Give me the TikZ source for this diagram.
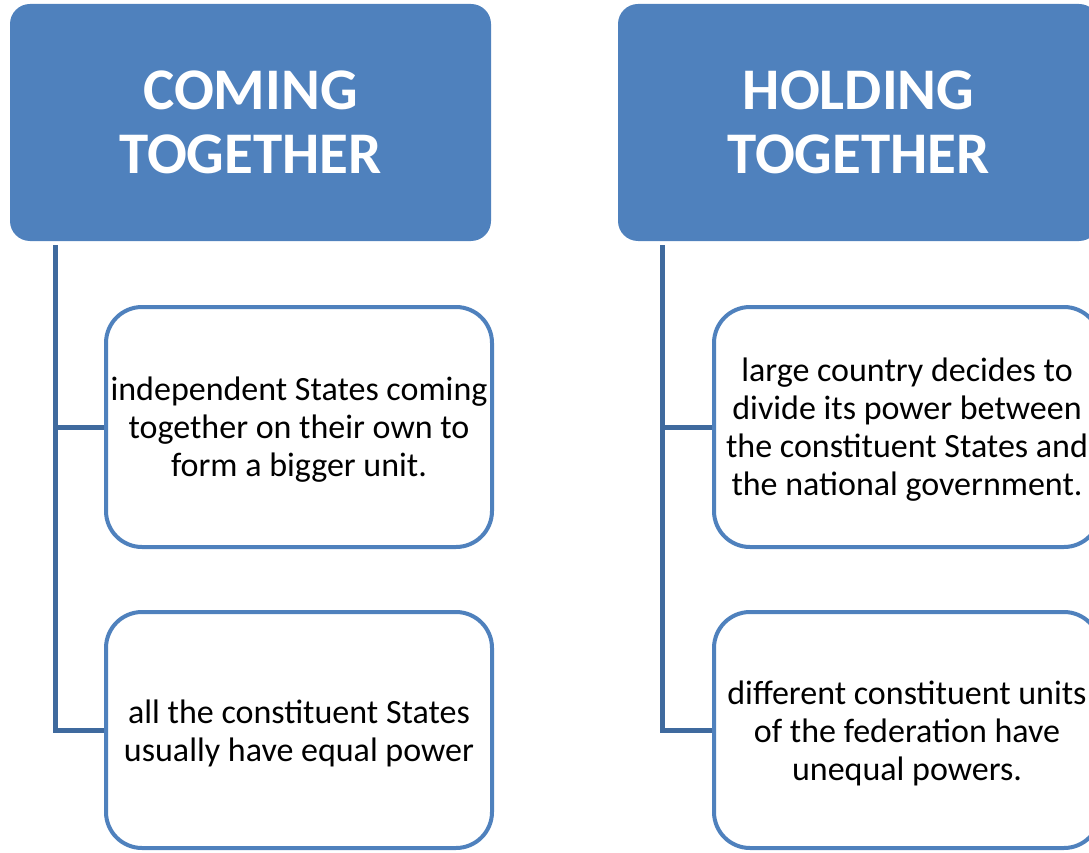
\documentclass[tikz,border=0pt]{standalone}
\usepackage{fontspec}
\setmainfont{Carlito}
\definecolor{accent}{HTML}{4F81BD}
\definecolor{linkblue}{HTML}{3F6A9E}
\begin{document}
\begin{tikzpicture}[x=1pt,y=-1pt,
  header/.style={fill=accent, draw=none, rounded corners=20pt,
    minimum width=481pt, minimum height=237pt, inner sep=0pt,
    text=white, align=center,
    font=\fontsize{59}{64}\selectfont\bfseries},
  itembox/.style={draw=accent, line width=4pt, fill=white, rounded corners=36pt,
    minimum width=386pt, inner sep=0pt},
  itemtext/.style={inner sep=0pt, align=center,
    font=\fontsize{34}{38}\selectfont},
  link/.style={draw=linkblue, line width=5pt}]
\useasboundingbox (0,0) rectangle (1089,853);
\begin{scope}
\clip (0,0) rectangle (1089,853);

% header boxes
\node[header] (hl) at (250.5,122.5) {COMING\\TOGETHER};
\node[header] (hr) at (858.5,122.5) {HOLDING\\TOGETHER};

% centres of the item boxes
\path (299,427) coordinate (pl1) (299,730) coordinate (pl2)
      (907,427) coordinate (pr1) (907,730) coordinate (pr2);

% connectors (drawn first so the boxes cover their ends)
\coordinate (tl) at ([xshift=46pt,yshift=-4pt]hl.south west);
\coordinate (tr) at ([xshift=45pt,yshift=-4pt]hr.south west);
\draw[link] (tl) |- ([xshift=-193pt]pl2);
\draw[link] (tl) |- ([xshift=-193pt]pl1);
\draw[link] (tr) |- ([xshift=-193pt]pr2);
\draw[link] (tr) |- ([xshift=-193pt]pr1);

% item boxes
\node[itembox, minimum height=240pt] (l1) at (pl1) {};
\node[itembox, minimum height=236pt] (l2) at (pl2) {};
\node[itembox, minimum height=240pt] (r1) at (pr1) {};
\node[itembox, minimum height=236pt] (r2) at (pr2) {};

% item texts
\node[itemtext] (l1t) at ([yshift=-3pt]l1.center)
  {independent States coming\\together on their own to\\form a bigger unit.};
\node[itemtext] (l2t) at ([yshift=-3pt]l2.center)
  {all the constituent States\\usually have equal power};
\node[itemtext] (r1t) at ([yshift=-3pt]r1.center)
  {large country decides to\\divide its power between\\the constituent States and\\the national government.};
\node[itemtext] (r2t) at ([yshift=-3pt]r2.center)
  {different constituent units\\of the federation have\\unequal powers.};
\end{scope}
\end{tikzpicture}
\end{document}
